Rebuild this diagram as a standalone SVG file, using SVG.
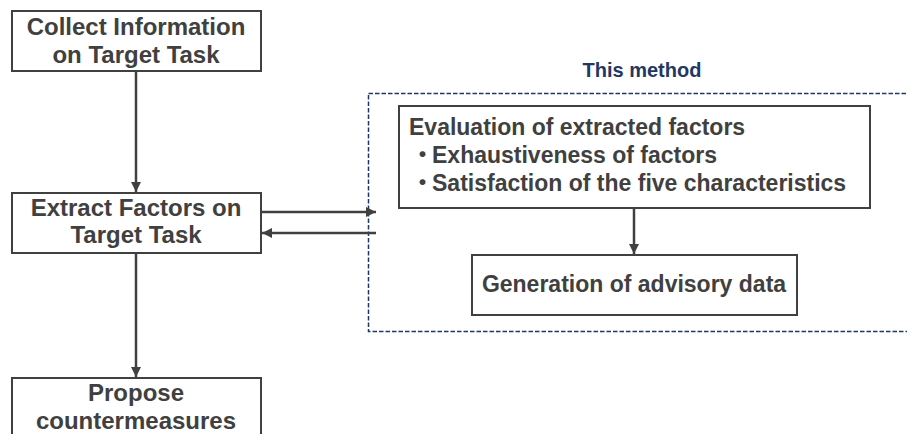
<svg xmlns="http://www.w3.org/2000/svg" width="907" height="434" viewBox="0 0 907 434">
<style>
.box{fill:#fff;stroke:#404040;stroke-width:2}
.t{font-family:"Liberation Sans",Arial,"Noto Sans CJK JP",sans-serif;font-weight:bold;font-size:23px;fill:#404040}
.l{font-size:24px}
.c{text-anchor:middle}
.ln{stroke:#404040;stroke-width:2.5;fill:none}
</style>
<defs>
<marker id="ah" viewBox="0 0 10 10" refX="10" refY="5" markerWidth="4" markerHeight="4" orient="auto" markerUnits="strokeWidth">
<path d="M0,0 L10,5 L0,10 z" fill="#404040"/>
</marker>
</defs>
<rect width="907" height="434" fill="#fff"/>
<g id="method-region">
<rect x="368.5" y="93.5" width="545" height="238" fill="none" stroke="#1f3864" stroke-width="1.5" stroke-dasharray="4.5,2"/>
<text x="642" y="77" class="t c" style="font-size:20px;fill:#1f3864">This method</text>
</g>
<g id="connectors">
<line class="ln" x1="136" y1="72" x2="136" y2="192" marker-end="url(#ah)"/>
<line class="ln" x1="136" y1="253" x2="136" y2="377" marker-end="url(#ah)"/>
<line class="ln" x1="262" y1="212" x2="376" y2="212" marker-end="url(#ah)"/>
<line class="ln" x1="376" y1="233" x2="262" y2="233" marker-end="url(#ah)"/>
<line class="ln" x1="634" y1="208" x2="634" y2="254" marker-end="url(#ah)"/>
</g>
<g id="collect">
<rect class="box" x="12" y="11" width="249" height="60"/>
<text x="136" y="35" class="t l c">Collect Information</text>
<text x="136" y="63" class="t l c">on Target Task</text>
</g>
<g id="extract">
<rect class="box" x="12" y="193" width="249" height="60"/>
<text x="136" y="216" class="t l c">Extract Factors on</text>
<text x="136" y="243" class="t l c">Target Task</text>
</g>
<g id="propose">
<rect class="box" x="12" y="378" width="249" height="70"/>
<text x="136" y="401" class="t l c">Propose</text>
<text x="136" y="429" class="t l c">countermeasures</text>
</g>
<g id="evaluation">
<rect class="box" x="399" y="106" width="471" height="102"/>
<text x="409" y="135" class="t">Evaluation of extracted factors</text>
<text x="411" y="163" class="t">・<tspan x="432">Exhaustiveness of factors</tspan></text>
<text x="411" y="191" class="t">・<tspan x="432">Satisfaction of the five characteristics</tspan></text>
</g>
<g id="generation">
<rect class="box" x="472" y="255" width="325" height="60"/>
<text x="634" y="292" class="t c">Generation of advisory data</text>
</g>
</svg>
